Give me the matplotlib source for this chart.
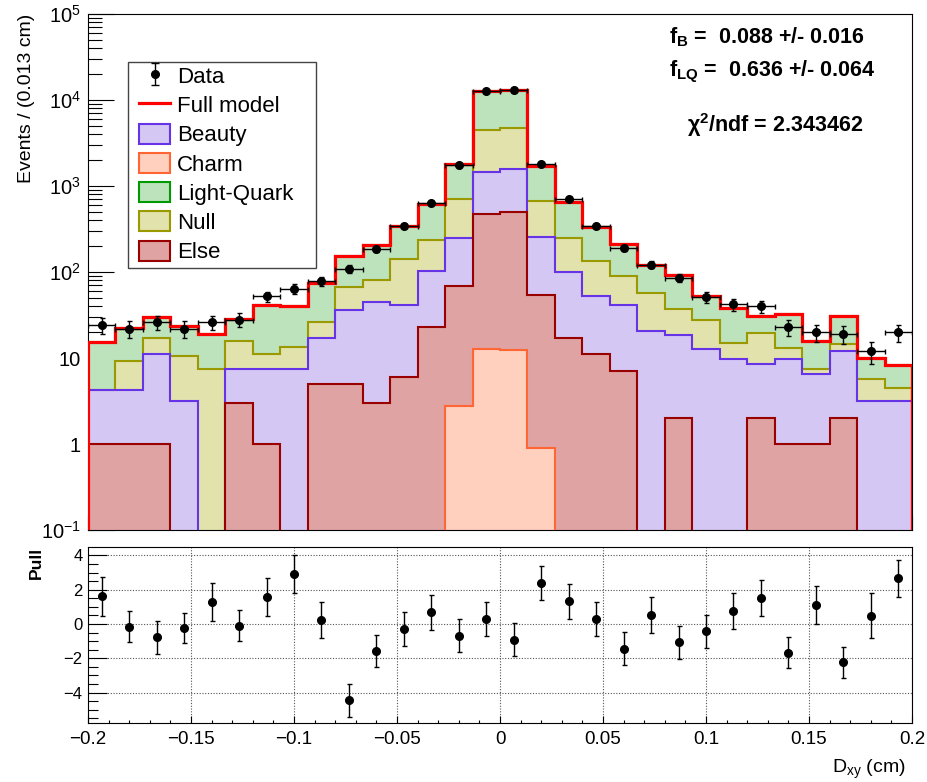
import numpy as np
import matplotlib
matplotlib.use("Agg")
import matplotlib.pyplot as plt
from matplotlib.lines import Line2D
from matplotlib.patches import Patch, Rectangle
from matplotlib.ticker import FixedLocator, LogLocator, MultipleLocator, FuncFormatter, NullFormatter

plt.rcParams.update({
    "font.family": ["Liberation Sans", "DejaVu Sans"],
    "mathtext.fontset": "custom",
    "mathtext.rm": "Liberation Sans",
    "mathtext.it": "Liberation Sans:italic",
    "mathtext.bf": "Liberation Sans:bold",
})

# 30 bins of 0.0133 cm between -0.2 and 0.2
bin_edges = np.linspace(-0.2, 0.2, 31)

data_counts = [24, 22, 26, 22, 26, 28, 52, 64, 78, 109, 186, 340, 634, 1760, 12850,
               13200, 1810, 710, 340, 190, 122, 86, 51, 42, 40, 23, 20, 19, 12, 20]
data_err = [4.9, 4.7, 5.1, 4.7, 5.1, 5.3, 7.2, 8.0, 8.8, 10.4, 13.6, 18.4, 25.2, 42, 113,
            115, 42.5, 26.6, 18.4, 13.8, 11.0, 9.3, 7.1, 6.5, 6.3, 4.8, 4.5, 4.4, 3.5, 4.5]

# drawn levels of the stacked model (top of each layer)
full_model = [15.5, 22.4, 30.2, 23.5, 19.1, 28.3, 41, 40, 75, 155, 204, 340, 617, 1795, 12600,
              13200, 1730, 653, 331, 214, 122, 93, 53, 38, 30.5, 32.5, 15.9, 31, 10, 8.3]
null_top = [4.2, 9.3, 17, 10.5, 7.4, 15.9, 11.2, 13.5, 26.5, 67, 81, 141, 235, 697, 4450,
            4750, 676, 251, 135, 90, 56.7, 36.7, 27.8, 14.8, 19.5, 13.2, 7.5, 14.4, 5.7, 4.5]
beauty_top = [4.2, 4.2, 11, 3.2, 0, 7.4, 7.5, 7.5, 17, 36, 45, 41.7, 104, 251, 1436,
              1563, 258, 100, 53, 41.7, 20.8, 18.7, 12.8, 9.8, 8.45, 9.8, 6.5, 12, 3.2, 3.2]
else_h = [1, 1, 1, 0, 0, 3, 1, 0, 5, 5, 3, 6, 23, 68, 471,
          504, 54, 17, 11, 7, 0, 2, 0, 0, 2, 1, 1, 2, 0, 0]
charm_h = [0, 0, 0, 0, 0, 0, 0, 0, 0, 0, 0, 0, 0, 2.8, 12.8,
           12.3, 0.9, 0, 0, 0, 0, 0, 0, 0, 0, 0, 0, 0, 0, 0]

pull = [1.61, -0.17, -0.78, -0.23, 1.30, -0.10, 1.57, 2.93, 0.23, -4.45, -1.57, -0.29, 0.68, -0.68, 0.31,
        -0.91, 2.39, 1.32, 0.29, -1.44, 0.54, -1.07, -0.43, 0.78, 1.51, -1.67, 1.09, -2.23, 0.49, 2.66]
pull_err = [1.15, 0.9, 0.95, 0.9, 1.1, 0.9, 1.1, 1.1, 1.05, 0.97, 0.95, 1.0, 1.0, 0.97, 1.0,
            0.97, 1.0, 1.0, 1.0, 0.97, 1.05, 0.97, 0.97, 1.05, 1.07, 0.9, 1.1, 0.9, 1.3, 1.1]

# name -> (fill, line)
STYLE = {
    "Light-Quark": ("#bde3bd", "#009a00"),
    "Null": ("#e2e2ac", "#9a9a00"),
    "Beauty": ("#d4c7f4", "#6633e6"),
    "Else": ("#dfa3a3", "#990000"),
    "Charm": ("#ffd0be", "#ff6633"),
}
layers = [("Light-Quark", full_model), ("Null", null_top), ("Beauty", beauty_top),
          ("Else", else_h), ("Charm", charm_h)]

W, H = 928, 782
fig = plt.figure(figsize=(W / 100, H / 100), dpi=100, facecolor="white")
ax = fig.add_axes([88 / W, 1 - 530 / H, 824 / W, 516 / H])
axp = fig.add_axes([88 / W, 1 - 723 / H, 824 / W, 176 / H])

BASE = 1e-3
centers = 0.5 * (bin_edges[:-1] + bin_edges[1:])
half_w = 0.5 * (bin_edges[1] - bin_edges[0])

for name, vals in layers:
    fc, lc = STYLE[name]
    v = np.where(np.asarray(vals, float) > 0, vals, BASE)
    ax.stairs(v, bin_edges, baseline=BASE, fill=True, color=fc, lw=0, zorder=2)
    ax.stairs(v, bin_edges, baseline=BASE, fill=False, color=lc, lw=1.5, zorder=3)
ax.stairs(full_model, bin_edges, baseline=BASE, fill=False, color="#ff0000", lw=2.3, zorder=4)

ax.errorbar(centers, data_counts, yerr=data_err, xerr=half_w, fmt="o", color="black",
            ms=5.5, elinewidth=1.0, capsize=1.8, capthick=1.0, zorder=5)
# legend handle: marker with vertical error bar only
data_handle = ax.errorbar([np.nan], [np.nan], yerr=[1], fmt="o", color="black", ms=5.5,
                          elinewidth=1.0, capsize=3, capthick=1.0)

ax.set_yscale("log")
ax.set_xlim(-0.2, 0.2)
ax.set_ylim(0.1, 1e5)
ax.xaxis.set_major_locator(MultipleLocator(0.05))
ax.xaxis.set_minor_locator(MultipleLocator(0.01))
ax.xaxis.set_major_formatter(NullFormatter())
ax.yaxis.set_major_locator(FixedLocator([0.1, 1, 10, 1e2, 1e3, 1e4, 1e5]))
ax.yaxis.set_minor_locator(LogLocator(base=10, subs=np.arange(2, 10)))
ax.yaxis.set_minor_formatter(NullFormatter())
ylabels = {0.1: r"$10^{-1}$", 1: "1", 10: "10", 1e2: r"$10^{2}$", 1e3: r"$10^{3}$",
           1e4: r"$10^{4}$", 1e5: r"$10^{5}$"}
ax.yaxis.set_major_formatter(FuncFormatter(lambda v, p: ylabels.get(round(v, 6), "")))
ax.tick_params(axis="y", which="major", direction="in", length=19, width=0.8, labelsize=14.5, pad=5)
ax.tick_params(axis="y", which="minor", direction="in", length=10, width=0.8)
ax.tick_params(axis="x", which="major", direction="in", length=11, width=0.8)
ax.tick_params(axis="x", which="minor", direction="in", length=5.5, width=0.8)
for s in ax.spines.values():
    s.set_linewidth(0.8)
ax.set_ylabel("Events / (0.013 cm)", fontsize=14, loc="top", labelpad=4)

# legend: ROOT-like square box drawn as its own rectangle
fig.add_artist(Rectangle((128 / W, 1 - 268 / H), 188 / W, 206 / H, transform=fig.transFigure,
                         facecolor="white", edgecolor="#444444", lw=1.0, zorder=4))
handles = [data_handle, Line2D([], [], color="#ff0000", lw=2.3)]
for name in ["Beauty", "Charm", "Light-Quark", "Null", "Else"]:
    fc, lc = STYLE[name]
    handles.append(Patch(facecolor=fc, edgecolor=lc, lw=1.5))
labels = ["Data", "Full model", "Beauty", "Charm", "Light-Quark", "Null", "Else"]
leg = fig.legend(handles, labels, loc="upper left", bbox_to_anchor=(136 / W, 1 - 62 / H),
                 borderaxespad=0, fontsize=16, frameon=False, handlelength=1.4,
                 handleheight=1.0, labelspacing=0.3, borderpad=0.15, handletextpad=0.3)

ax.text(0.705, 0.955, r"$\mathbf{f_{B}}$ =  0.088 +/- 0.016", transform=ax.transAxes,
        fontsize=15.5, fontweight="bold", va="center")
ax.text(0.705, 0.887, r"$\mathbf{f_{LQ}}$ =  0.636 +/- 0.064", transform=ax.transAxes,
        fontsize=15.5, fontweight="bold", va="center")
ax.text(0.727, 0.785, r"χ$^{\mathbf{2}}$/ndf = 2.343462", transform=ax.transAxes,
        fontsize=15.5, fontweight="bold", va="center")

# pull pad
axp.errorbar(centers, pull, yerr=pull_err, fmt="o", color="black", ms=5.5,
             elinewidth=1.0, capsize=1.8, capthick=1.0, zorder=5)
axp.set_xlim(-0.2, 0.2)
axp.set_ylim(-5.77, 4.49)
axp.xaxis.set_major_locator(MultipleLocator(0.05))
axp.xaxis.set_minor_locator(MultipleLocator(0.01))
axp.yaxis.set_major_locator(FixedLocator([-4, -2, 0, 2, 4]))
axp.yaxis.set_minor_locator(MultipleLocator(0.5))
axp.xaxis.set_major_formatter(FuncFormatter(lambda v, p: ("%g" % round(v, 3)).replace("-", "\u2212")))
axp.yaxis.set_major_formatter(FuncFormatter(lambda v, p: ("%g" % v).replace("-", "\u2212")))
axp.grid(True, which="major", linestyle=(0, (1, 1.5)), color="#555555", lw=0.8)
axp.tick_params(axis="y", which="major", direction="in", length=14, width=0.8, labelsize=12, pad=4)
axp.tick_params(axis="y", which="minor", direction="in", length=7, width=0.8)
axp.tick_params(axis="x", which="major", direction="in", length=5, width=0.8, labelsize=13.5, pad=6)
axp.tick_params(axis="x", which="minor", direction="in", length=2.5, width=0.8)
for s in axp.spines.values():
    s.set_linewidth(0.8)
axp.set_ylabel("Pull", fontsize=12.5, fontweight="bold", loc="top", labelpad=14)
axp.set_xlabel(r"D$_{\mathregular{xy}}$ (cm)", fontsize=14, loc="right", labelpad=7)
axp.xaxis.label.set_x(0.992)

fig.savefig("out.png", dpi=100, facecolor="white")
